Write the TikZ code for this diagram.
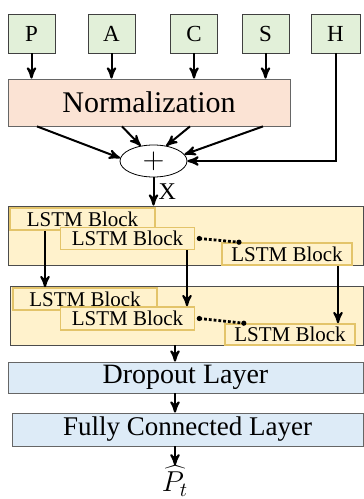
\documentclass[tikz,border=0pt]{standalone}
\usepackage{fontspec}
\setmainfont{Liberation Serif}
\usetikzlibrary{arrows}
\usetikzlibrary{shapes.geometric}
\definecolor{inputgreen}{HTML}{E2F0D9}
\definecolor{normpeach}{HTML}{FBE3D4}
\definecolor{lstmyellow}{HTML}{FFF2CC}
\definecolor{lstmgold}{HTML}{E3C46A}
\definecolor{layerblue}{HTML}{DDEBF7}
\tikzset{x=0.5pt, y=-0.5pt,
    every node/.style={inner sep=0pt},
    input/.style={
        draw=black!75,
        fill=inputgreen,
        minimum width=23.5pt, minimum height=19.5pt,
        font=\fontsize{11.5}{13}\selectfont},
    norm/.style={
        draw=black!60,
        fill=normpeach,
        minimum width=141pt, minimum height=23.5pt,
        font=\fontsize{15}{17}\selectfont},
    group/.style={
        draw=black!70,
        fill=lstmyellow},
    lstm/.style={
        draw=lstmgold,
        thick,
        fill=lstmyellow,
        minimum width=67pt, minimum height=11pt,
        font=\fontsize{10.5}{12}\selectfont},
    layer/.style={
        draw=black!60,
        fill=layerblue,
        font=\fontsize{14}{16}\selectfont},
    conn/.style={
        draw,
        ->,>=stealth',
        line width=1pt},
    dots/.style={
        densely dotted,
        line width=1.4pt}}

\begin{document}
\begin{tikzpicture}
        \useasboundingbox (0,0) rectangle (364,499);

        % inputs
        \node[input] (P) at (31.5,33.5) {P};
        \node[input] (A) at (111.5,33.5) {A};
        \node[input] (C) at (194,33.5) {C};
        \node[input] (S) at (265.5,33.5) {S};
        \node[input, minimum width=24.5pt] (H) at (335.5,33.5) {H};

        \node[norm] (norm) at (149,102.5) {Normalization};
        \node[draw, ellipse, minimum width=33.5pt, minimum height=16pt,
            font=\Large] (sum) at (153.5,161) {$+$};

        \draw[conn] (P.south) -- (P.south |- norm.north);
        \draw[conn] (A.south) -- (A.south |- norm.north);
        \draw[conn] (C.south) -- (C.south |- norm.north);
        \draw[conn] (S.south) -- (S.south |- norm.north);

        \draw[conn] ([xshift=-56pt]norm.south) -- (sum.175);
        \draw[conn] ([xshift=-13.5pt]norm.south) -- (sum.130);
        \draw[conn] ([xshift=20.5pt]norm.south) -- (sum.50);
        \draw[conn] ([xshift=57pt]norm.south) -- (sum.12);
        \draw[conn] (H.south) |- (sum.east);

        % first LSTM layer
        \node[group, minimum width=177.5pt, minimum height=29.5pt] (g1) at (185.5,235.5) {};
        \node[lstm, minimum width=72.5pt] (g1b1) at (82.5,219) {LSTM Block};
        \node[lstm] (g1b2) at (127.5,238.5) {LSTM Block};
        \node[lstm, minimum width=65pt] (g1b3) at (287,254) {LSTM Block};
        \draw[dots] ([xshift=2pt]g1b2.east) -- ([xshift=-2pt]g1b3.165);
        \fill ([xshift=2pt]g1b2.east) circle (1.3pt) ([xshift=-2pt]g1b3.165) circle (1.3pt);

        % second LSTM layer
        \node[group, minimum width=176.5pt, minimum height=29.5pt] (g2) at (186.5,315.5) {};
        \node[lstm, minimum width=72pt] (g2b1) at (85,299) {LSTM Block};
        \node[lstm, minimum height=11.5pt] (g2b2) at (127.5,318.5) {LSTM Block};
        \node[lstm, minimum width=65pt, minimum height=10.5pt] (g2b3) at (290,334.5) {LSTM Block};
        \draw[dots] ([xshift=2pt]g2b2.east) -- ([xshift=-2pt]g2b3.165);
        \fill ([xshift=2pt]g2b2.east) circle (1.3pt) ([xshift=-2pt]g2b3.165) circle (1.3pt);

        \draw[conn] (sum.south) -- node[right, xshift=2pt, font=\fontsize{12}{14}\selectfont] {X} (g1.north -| sum.south);
        \draw[conn] ([xshift=-18.75pt]g1b1.south) -- ([xshift=-18.75pt]g1b1.south |- g2b1.north);
        \draw[conn] ([xshift=29.75pt]g1b2.south) -- ([xshift=29.75pt]g1b2.south |- g2b2.north);
        \draw[conn] ([xshift=25.5pt]g1b3.south) -- ([xshift=25.5pt]g1b3.south |- g2b3.north);

        % output layers
        \node[layer, minimum width=177.5pt, minimum height=15.5pt] (drop) at (185.5,377.5) {Dropout Layer};
        \node[layer, minimum width=175.5pt, minimum height=16.5pt,
            font=\fontsize{13.5}{16}\selectfont] (fc) at (187.5,429.5) {Fully Connected Layer};
        \node[font=\fontsize{14}{16}\selectfont] (pt) at (175,481) {$\widehat{P}_t$};

        \draw[conn] (g2.south -| pt) -- (drop.north -| pt);
        \draw[conn] (drop.south -| pt) -- (fc.north -| pt);
        \draw[conn] (fc.south -| pt) -- (pt);
\end{tikzpicture}
\end{document}
